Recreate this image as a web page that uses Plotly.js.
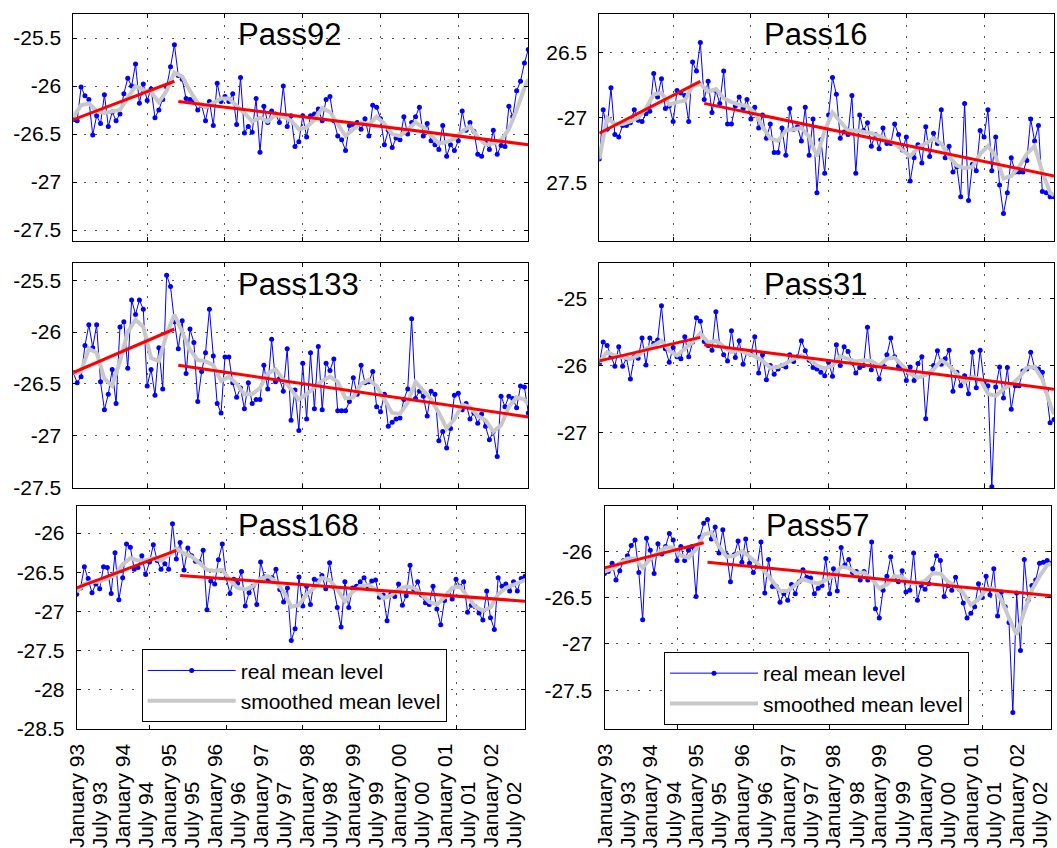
<!DOCTYPE html>
<html><head><meta charset="utf-8">
<script src="https://cdn.plot.ly/plotly-3.0.1.min.js"></script>
<style>html,body{margin:0;padding:0;background:#fff;} #chart{width:1057px;height:848px;}</style>
</head><body><div id="chart"></div>
<script>
// ---- month index: 1 = January 93 ... 118 = October 02
const months = []; for (let m = 1; m <= 118; m++) months.push(m);
const smoothMonths = []; for (let m = 1; m <= 117; m += 2) smoothMonths.push(m); smoothMonths.push(118);
const trendEarlyMonths = [1, 27];
const trendLateMonths = [28, 118];

const tickMonths = [1,7,13,19,25,31,37,43,49,55,61,67,73,79,85,91,97,103,109,115];
const tickLabels = ['January 93','July 93','January 94','July 94','January 95','July 95','January 96','July 96',
  'January 97','July 97','January 98','July 98','January 99','July 99','January 00','July 00',
  'January 01','July 01','January 02','July 02'];

const panelNames = ['Pass92','Pass16','Pass133','Pass31','Pass168','Pass57'];

// ---- Pass92
const real92 = [-26.35,-26.36,-26.01,-26.10,-26.14,-26.51,-26.31,-26.39,-26.09,-26.42,
 -26.27,-26.36,-26.29,-26.08,-25.92,-26.00,-25.77,-26.18,-25.98,-26.15,
 -26.03,-26.33,-26.25,-26.14,-26.01,-25.80,-25.57,-25.89,-25.93,-26.13,
 -26.14,-26.16,-26.25,-26.20,-26.36,-26.16,-26.41,-25.97,-26.16,-26.11,
 -26.16,-26.08,-26.40,-25.91,-26.49,-26.42,-26.48,-26.13,-26.69,-26.21,
 -26.38,-26.26,-26.29,-26.38,-26.00,-26.42,-26.31,-26.63,-26.58,-26.31,
 -26.53,-26.31,-26.29,-26.24,-26.36,-26.14,-26.11,-26.36,-26.52,-26.56,
 -26.67,-26.41,-26.40,-26.38,-26.45,-26.34,-26.52,-26.20,-26.22,-26.34,
 -26.61,-26.46,-26.64,-26.54,-26.56,-26.32,-26.50,-26.38,-26.32,-26.22,
 -26.52,-26.39,-26.57,-26.61,-26.66,-26.41,-26.73,-26.61,-26.67,-26.57,
 -26.26,-26.46,-26.38,-26.47,-26.71,-26.73,-26.59,-26.66,-26.46,-26.71,
 -26.62,-26.63,-26.21,-26.32,-26.05,-25.95,-25.76,-25.62];
const smooth92 = [-26.32,-26.2,-26.18,-26.26,-26.28,-26.27,-26.25,-26.12,-26.0,-26.04,
 -26.06,-26.17,-26.05,-25.86,-25.9,-26.05,-26.18,-26.22,-26.17,-26.13,
 -26.13,-26.2,-26.28,-26.37,-26.33,-26.37,-26.3,-26.32,-26.36,-26.45,
 -26.43,-26.35,-26.23,-26.27,-26.4,-26.52,-26.45,-26.38,-26.4,-26.32,
 -26.39,-26.5,-26.52,-26.45,-26.38,-26.43,-26.52,-26.6,-26.58,-26.55,
 -26.47,-26.42,-26.53,-26.61,-26.6,-26.56,-26.45,-26.25,-26.02,-25.93];
const trendEarly92 = [-26.35, -25.95];
const trendLate92 = [-26.16, -26.61];

// ---- Pass16
const real16 = [-27.32,-26.94,-27.09,-26.77,-27.13,-27.15,-27.06,-27.06,-27.04,-26.94,
 -27.02,-27.03,-26.97,-26.95,-26.66,-26.84,-26.70,-26.93,-26.91,-27.03,
 -26.79,-26.81,-26.83,-27.03,-26.57,-26.64,-26.42,-26.86,-26.72,-26.96,
 -26.79,-26.89,-26.64,-27.05,-27.05,-26.91,-26.84,-26.93,-26.86,-27.01,
 -26.92,-27.08,-26.98,-27.16,-27.05,-27.27,-27.27,-27.08,-27.29,-26.93,
 -27.09,-27.07,-27.18,-26.92,-27.29,-27.01,-27.58,-27.17,-27.43,-26.98,
 -26.69,-26.82,-27.16,-27.11,-27.13,-26.83,-27.43,-26.98,-27.10,-27.04,
 -27.22,-27.13,-27.24,-27.08,-27.20,-27.20,-27.05,-27.13,-27.25,-27.15,
 -27.49,-27.31,-27.21,-27.35,-27.07,-27.30,-27.12,-27.20,-26.94,-27.31,
 -27.22,-27.42,-27.38,-27.61,-26.89,-27.64,-27.36,-27.41,-27.10,-27.15,
 -26.94,-27.41,-27.15,-27.52,-27.74,-27.58,-27.31,-27.42,-27.42,-27.42,
 -27.33,-27.01,-27.18,-27.06,-27.57,-27.58,-27.61,-27.61];
const smooth16 = [-27.32,-27.0,-27.05,-27.05,-27.03,-27.0,-26.93,-26.82,-26.81,-26.9,
 -26.88,-26.87,-26.75,-26.74,-26.8,-26.78,-26.85,-26.88,-26.9,-26.91,
 -26.96,-27.07,-27.16,-27.18,-27.1,-27.09,-27.08,-27.15,-27.3,-27.1,
 -26.96,-27.03,-27.1,-27.1,-27.11,-27.12,-27.14,-27.17,-27.2,-27.25,
 -27.3,-27.23,-27.2,-27.16,-27.2,-27.3,-27.37,-27.39,-27.38,-27.28,
 -27.22,-27.3,-27.47,-27.45,-27.38,-27.28,-27.22,-27.42,-27.58,-27.6];
const trendEarly16 = [-27.12, -26.72];
const trendLate16 = [-26.89, -27.45];

// ---- Pass133
const real133 = [-26.39,-26.49,-26.43,-26.13,-25.93,-26.15,-25.93,-26.48,-26.75,-26.60,
 -26.36,-26.69,-25.95,-25.90,-26.35,-25.69,-25.83,-25.69,-25.78,-26.52,
 -26.36,-26.61,-26.15,-26.55,-25.45,-25.56,-25.90,-26.16,-25.89,-26.40,
 -25.97,-26.10,-26.67,-26.38,-26.20,-25.78,-26.23,-26.69,-26.78,-26.24,
 -26.24,-26.49,-26.63,-26.54,-26.74,-26.49,-26.69,-26.65,-26.65,-26.32,
 -26.55,-26.07,-26.48,-26.45,-26.57,-26.16,-26.85,-26.56,-26.95,-26.30,
 -26.84,-26.20,-26.74,-26.14,-26.75,-26.30,-26.37,-26.26,-26.76,-26.76,
 -26.76,-26.67,-26.44,-26.60,-26.32,-26.49,-26.48,-26.38,-26.72,-26.77,
 -26.60,-26.91,-26.87,-26.84,-26.83,-26.65,-26.55,-25.87,-26.64,-26.57,
 -26.62,-26.81,-26.57,-26.60,-27.05,-26.96,-27.12,-26.93,-26.61,-26.59,
 -26.75,-26.69,-26.84,-26.78,-26.88,-26.79,-26.91,-27.04,-26.96,-27.20,
 -26.62,-26.72,-26.62,-26.64,-26.73,-26.52,-26.53,-26.78];
const smooth133 = [-26.4,-26.38,-26.16,-26.2,-26.45,-26.52,-26.28,-26.0,-25.88,-25.95,
 -26.25,-26.28,-26.02,-25.83,-26.0,-26.17,-26.27,-26.28,-26.32,-26.47,
 -26.43,-26.5,-26.6,-26.6,-26.54,-26.4,-26.36,-26.46,-26.56,-26.65,
 -26.6,-26.53,-26.47,-26.43,-26.48,-26.64,-26.63,-26.5,-26.46,-26.52,
 -26.66,-26.78,-26.79,-26.68,-26.48,-26.56,-26.65,-26.78,-26.93,-26.84,
 -26.7,-26.72,-26.81,-26.85,-26.96,-26.9,-26.72,-26.63,-26.65,-26.7];
const trendEarly133 = [-26.39, -25.97];
const trendLate133 = [-26.32, -26.82];

// ---- Pass31
const real31 = [-25.97,-25.65,-25.70,-25.87,-26.01,-25.72,-26.01,-25.89,-26.20,-25.87,
 -25.89,-25.59,-25.99,-25.59,-25.67,-25.62,-25.11,-25.75,-25.95,-25.73,
 -25.87,-25.90,-25.57,-25.87,-25.65,-25.29,-25.34,-25.64,-25.70,-25.77,
 -25.20,-25.70,-25.84,-25.93,-25.48,-25.88,-25.63,-25.98,-25.80,-25.83,
 -25.57,-26.11,-25.84,-26.21,-26.00,-26.13,-26.05,-26.00,-26.02,-25.84,
 -25.94,-25.87,-25.63,-25.78,-25.92,-26.03,-26.05,-26.10,-26.15,-25.95,
 -26.16,-25.69,-26.00,-25.72,-25.79,-25.93,-26.11,-26.03,-26.00,-25.43,
 -26.06,-26.00,-26.20,-26.00,-25.84,-25.59,-25.87,-26.01,-26.03,-26.22,
 -26.02,-26.22,-25.97,-25.87,-26.79,-26.11,-26.00,-25.78,-25.98,-25.90,
 -25.77,-26.38,-26.10,-26.30,-26.15,-26.42,-25.80,-26.33,-25.77,-26.25,
 -26.30,-27.80,-26.32,-26.02,-26.48,-26.03,-26.65,-26.30,-26.30,-26.08,
 -26.05,-25.80,-26.03,-26.05,-26.10,-26.37,-26.85,-26.80];
const smooth31 = [-25.95,-25.8,-25.85,-25.88,-25.9,-25.85,-25.75,-25.7,-25.63,-25.78,
 -25.85,-25.75,-25.65,-25.52,-25.66,-25.63,-25.72,-25.8,-25.77,-25.82,
 -25.86,-25.93,-26.03,-26.02,-25.97,-25.9,-25.85,-25.9,-26.0,-26.04,
 -26.0,-25.86,-25.9,-25.94,-25.92,-25.93,-26.0,-25.9,-25.88,-26.0,
 -26.12,-26.18,-26.14,-26.06,-25.92,-26.0,-26.13,-26.25,-26.17,-26.2,
 -26.42,-26.45,-26.35,-26.28,-26.18,-26.03,-26.02,-26.2,-26.58,-26.72];
const trendEarly31 = [-25.93, -25.58];
const trendLate31 = [-25.69, -26.35];

// ---- Pass168
const real168 = [-26.78,-26.70,-26.43,-26.58,-26.76,-26.65,-26.71,-26.43,-26.44,-26.77,
 -26.25,-26.85,-26.57,-26.14,-26.18,-26.46,-26.44,-26.29,-26.53,-26.37,
 -26.15,-26.35,-26.46,-26.39,-26.46,-25.88,-26.33,-26.12,-26.47,-26.19,
 -26.29,-26.36,-26.37,-26.22,-26.98,-26.61,-26.65,-26.34,-26.14,-26.57,
 -26.77,-26.59,-26.64,-26.49,-26.93,-26.76,-26.68,-26.91,-26.37,-26.56,
 -26.60,-26.57,-26.46,-26.72,-26.88,-26.70,-27.37,-27.22,-26.56,-26.93,
 -26.68,-26.91,-26.59,-26.61,-26.54,-26.71,-26.38,-26.68,-26.95,-27.20,
 -26.62,-26.95,-26.70,-26.68,-26.62,-26.57,-26.68,-26.61,-26.60,-26.82,
 -26.79,-27.12,-26.78,-26.81,-26.65,-26.92,-26.80,-26.41,-26.72,-26.62,
 -26.79,-26.89,-26.91,-26.68,-26.97,-27.17,-26.86,-26.77,-26.84,-26.59,
 -26.68,-26.62,-27.01,-26.92,-26.94,-27.02,-27.11,-26.74,-27.08,-27.23,
 -26.57,-26.68,-26.65,-26.74,-26.62,-26.74,-26.58,-26.55];
const smooth168 = [-26.75,-26.65,-26.62,-26.62,-26.58,-26.53,-26.4,-26.32,-26.35,-26.35,
 -26.32,-26.35,-26.28,-26.2,-26.26,-26.3,-26.38,-26.47,-26.48,-26.47,
 -26.6,-26.7,-26.72,-26.68,-26.58,-26.55,-26.62,-26.75,-26.94,-26.92,
 -26.78,-26.7,-26.57,-26.6,-26.72,-26.87,-26.75,-26.68,-26.66,-26.72,
 -26.83,-26.8,-26.72,-26.68,-26.7,-26.78,-26.88,-26.91,-26.82,-26.7,
 -26.68,-26.82,-26.94,-26.99,-26.95,-26.78,-26.7,-26.66,-26.62,-26.6];
const trendEarly168 = [-26.70, -26.22];
const trendLate168 = [-26.54, -26.87];

// ---- Pass57
const real57 = [-26.24,-26.22,-26.13,-26.31,-26.21,-26.10,-26.05,-25.94,-25.88,-26.23,
 -26.74,-25.86,-25.99,-26.24,-25.92,-26.03,-25.95,-25.81,-25.88,-26.10,
 -25.95,-26.10,-25.99,-25.95,-26.49,-25.85,-25.70,-25.66,-25.87,-25.74,
 -26.02,-25.77,-26.04,-26.33,-26.04,-25.89,-26.12,-25.87,-26.13,-26.23,
 -26.16,-25.90,-26.45,-26.09,-26.38,-26.38,-26.55,-26.46,-26.53,-26.36,
 -26.46,-26.33,-26.20,-26.28,-26.29,-26.46,-26.40,-26.37,-26.08,-26.46,
 -26.19,-26.43,-25.96,-26.15,-26.09,-26.23,-26.22,-26.31,-26.22,-26.31,
 -25.90,-26.62,-26.72,-26.42,-26.27,-26.06,-26.28,-26.33,-26.21,-26.44,
 -26.42,-26.02,-26.53,-26.37,-26.41,-26.35,-26.19,-26.05,-26.10,-26.49,
 -26.37,-26.42,-26.28,-26.41,-26.56,-26.72,-26.67,-26.60,-26.35,-26.50,
 -26.27,-26.47,-26.19,-26.70,-26.44,-26.60,-26.77,-27.74,-26.45,-27.07,
 -26.09,-26.53,-26.37,-26.31,-26.13,-26.12,-26.10,-26.13];
const smooth57 = [-26.22,-26.19,-26.13,-26.08,-26.08,-26.18,-26.08,-26.02,-25.96,-25.96,
 -26.05,-26.07,-25.98,-25.82,-25.8,-25.95,-26.06,-26.05,-26.0,-26.06,
 -26.13,-26.22,-26.33,-26.43,-26.43,-26.37,-26.3,-26.33,-26.35,-26.31,
 -26.26,-26.17,-26.18,-26.24,-26.23,-26.3,-26.4,-26.36,-26.27,-26.28,
 -26.34,-26.35,-26.32,-26.24,-26.24,-26.33,-26.38,-26.45,-26.58,-26.52,
 -26.41,-26.4,-26.52,-26.72,-26.9,-26.65,-26.42,-26.27,-26.15,-26.13];
const trendEarly57 = [-26.18, -25.91];
const trendLate57 = [-26.12, -26.48];

// ---- y tick values / labels per panel
const yTicks92 = [-27.5,-27,-26.5,-26,-25.5];  const yLabels92 = ['-27.5','-27','-26.5','-26','-25.5'];
const yTicks16 = [-27.5,-27,-26.5];            const yLabels16 = ['27.5','-27','26.5'];
const yTicks133 = [-27.5,-27,-26.5,-26,-25.5]; const yLabels133 = ['-27.5','-27','-26.5','-26','-25.5'];
const yTicks31 = [-27,-26,-25];                const yLabels31 = ['-27','-26','-25'];
const yTicks168 = [-28.5,-28,-27.5,-27,-26.5,-26]; const yLabels168 = ['-28.5','-28','-27.5','-27','-26.5','-26'];
const yTicks57 = [-27.5,-27,-26.5,-26];        const yLabels57 = ['-27.5','-27','-26.5','-26'];
const yRange92 = [-27.61,-25.25], yRange16 = [-27.95,-26.2], yRange133 = [-27.505,-25.33],
      yRange31 = [-27.82,-24.47], yRange168 = [-28.505,-25.65], yRange57 = [-27.92,-25.51];
const xGridMonths = [20,40,60,80,100];

// ---- assemble
const FONT = 'Liberation Sans, Arial, Helvetica, sans-serif';
const panels = [
  {real: real92, smooth: smooth92, t1: trendEarly92, t2: trendLate92, yt: yTicks92, yl: yLabels92, yr: yRange92},
  {real: real16, smooth: smooth16, t1: trendEarly16, t2: trendLate16, yt: yTicks16, yl: yLabels16, yr: yRange16},
  {real: real133, smooth: smooth133, t1: trendEarly133, t2: trendLate133, yt: yTicks133, yl: yLabels133, yr: yRange133},
  {real: real31, smooth: smooth31, t1: trendEarly31, t2: trendLate31, yt: yTicks31, yl: yLabels31, yr: yRange31},
  {real: real168, smooth: smooth168, t1: trendEarly168, t2: trendLate168, yt: yTicks168, yl: yLabels168, yr: yRange168, legend: 'legend'},
  {real: real57, smooth: smooth57, t1: trendEarly57, t2: trendLate57, yt: yTicks57, yl: yLabels57, yr: yRange57, legend: 'legend2'}
];
const W = 1057, H = 848;
const px = v => v / W, py = v => 1 - v / H;
const domX = [[73.3,528.3],[599.3,1054],[73.3,528.3],[599.3,1054],[76.7,525],[604.5,1051]];
const domY = [[14,240.7],[14,240.7],[262.7,488],[262.7,488],[505.7,729.3],[505.7,729.3]];
const titlePos = [[289.5,34],[815,34],[298.5,284],[815,284],[298.5,525],[817,525]];

const traces = [];
const legendStyle = {xanchor: 'left', yanchor: 'top', bgcolor: '#fff',
  bordercolor: '#000', borderwidth: 1, font: {family: FONT, size: 21, color: '#000'}, itemwidth: 88, tracegroupgap: 0};
const layout = {
  width: W, height: H, margin: {l:0, r:0, t:0, b:0},
  paper_bgcolor: '#fff', plot_bgcolor: '#fff',
  font: {family: FONT, color: '#000'},
  showlegend: true,
  legend: Object.assign({x: px(141.7), y: py(649.3)}, legendStyle),
  legend2: Object.assign({x: px(664), y: py(652)}, legendStyle),
  annotations: []
};

panels.forEach((p, i) => {
  const k = i + 1;
  const xa = k === 1 ? 'x' : 'x' + k, ya = k === 1 ? 'y' : 'y' + k;
  const showLeg = !!p.legend;
  traces.push({x: months, y: p.real, xaxis: xa, yaxis: ya, type: 'scatter', mode: 'lines+markers',
    name: 'real mean level', line: {color: '#0000ff', width: 1}, marker: {color: '#0000ff', size: 5},
    showlegend: showLeg, legend: p.legend || 'legend'});
  traces.push({x: smoothMonths, y: p.smooth, xaxis: xa, yaxis: ya, type: 'scatter', mode: 'lines',
    name: 'smoothed mean level', line: {color: '#c8c8c8', width: 4},
    showlegend: showLeg, legend: p.legend || 'legend'});
  traces.push({x: trendEarlyMonths, y: p.t1, xaxis: xa, yaxis: ya, type: 'scatter', mode: 'lines',
    line: {color: '#ff0000', width: 3}, showlegend: false, hoverinfo: 'skip'});
  traces.push({x: trendLateMonths, y: p.t2, xaxis: xa, yaxis: ya, type: 'scatter', mode: 'lines',
    line: {color: '#ff0000', width: 3}, showlegend: false, hoverinfo: 'skip'});

  const axX = {domain: [px(domX[i][0]), px(domX[i][1])], range: [1, 118], anchor: ya,
    tickmode: 'array', tickvals: xGridMonths, showticklabels: false,
    ticks: 'inside', ticklen: 4, tickcolor: '#000', showline: true, linecolor: '#000', linewidth: 1, mirror: 'ticks',
    showgrid: true, gridcolor: '#555', gridwidth: 1, griddash: '2px,9px', zeroline: false, fixedrange: true};
  const axY = {domain: [py(domY[i][1]), py(domY[i][0])], range: p.yr, anchor: xa,
    tickmode: 'array', tickvals: p.yt, ticktext: p.yl, tickfont: {family: FONT, size: 21, color: '#000'},
    ticks: 'inside', ticklen: 4, tickcolor: '#000', showline: true, linecolor: '#000', linewidth: 1, mirror: 'ticks',
    ticklabelstandoff: 7,
    showgrid: true, gridcolor: '#555', gridwidth: 1, griddash: '2px,9px', zeroline: false, fixedrange: true};
  layout[k === 1 ? 'xaxis' : 'xaxis' + k] = axX;
  layout[k === 1 ? 'yaxis' : 'yaxis' + k] = axY;

  layout.annotations.push({text: panelNames[i], xref: 'paper', yref: 'paper',
    x: px(titlePos[i][0]), y: py(titlePos[i][1]), xanchor: 'center', yanchor: 'middle',
    showarrow: false, font: {family: FONT, size: 31, color: '#000'}});

  if (i >= 4) {
    tickMonths.forEach((m, j) => {
      layout.annotations.push({text: tickLabels[j], xref: xa, yref: 'paper', x: m, y: py(850),
        xanchor: 'center', yanchor: 'bottom', textangle: -90, showarrow: false,
        font: {family: FONT, size: 21, color: '#000'}});
    });
  }
});

Plotly.newPlot('chart', traces, layout, {displayModeBar: false, staticPlot: true});
</script>
</body></html>
